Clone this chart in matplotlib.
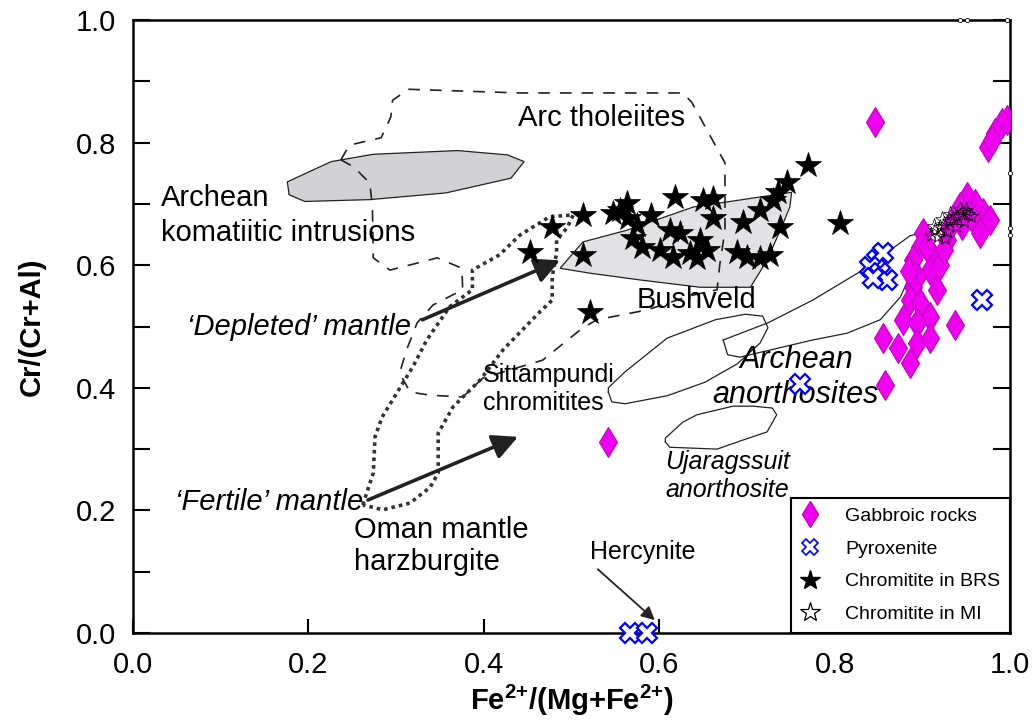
import numpy as np
import matplotlib
matplotlib.use("Agg")
import matplotlib.pyplot as plt
from matplotlib.lines import Line2D
from matplotlib.ticker import FormatStrFormatter, MultipleLocator

plt.rcParams['font.family'] = ['Liberation Sans', 'DejaVu Sans']
plt.rcParams['mathtext.fontset'] = 'custom'
plt.rcParams['mathtext.rm'] = 'Liberation Sans:bold'
plt.rcParams['mathtext.bf'] = 'Liberation Sans:bold'

# --- sample data (Fe2+/(Mg+Fe2+), Cr/(Cr+Al)) ---
gabbro_x = [0.846, 0.997, 0.991, 0.983, 0.975, 0.980, 0.951, 0.943, 0.969, 0.977,
            0.966, 0.960, 0.935, 0.928, 0.901, 0.897, 0.889, 0.912, 0.909, 0.920,
            0.894, 0.917, 0.889, 0.886, 0.897, 0.909, 0.878, 0.894, 0.937, 0.855,
            0.872, 0.894, 0.909, 0.886, 0.857, 0.542, 0.925, 0.945, 0.955, 0.930,
            0.905, 0.885]
gabbro_y = [0.834, 0.837, 0.832, 0.816, 0.793, 0.805, 0.711, 0.695, 0.685, 0.674,
            0.652, 0.700, 0.674, 0.641, 0.652, 0.630, 0.608, 0.613, 0.592, 0.600,
            0.581, 0.560, 0.565, 0.543, 0.538, 0.516, 0.511, 0.506, 0.502, 0.481,
            0.465, 0.473, 0.481, 0.440, 0.405, 0.312, 0.625, 0.665, 0.680, 0.660,
            0.630, 0.590]

pyrox_x = [0.848, 0.855, 0.840, 0.852, 0.860, 0.844, 0.968, 0.761, 0.567, 0.586]
pyrox_y = [0.608, 0.620, 0.597, 0.587, 0.576, 0.579, 0.543, 0.406, 0.0, 0.0]

brs_x = [0.453, 0.478, 0.513, 0.513, 0.521, 0.547, 0.563, 0.565, 0.570, 0.555,
         0.575, 0.591, 0.612, 0.618, 0.624, 0.601, 0.616, 0.635, 0.647, 0.650,
         0.661, 0.661, 0.654, 0.643, 0.696, 0.689, 0.700, 0.715, 0.726, 0.715,
         0.730, 0.738, 0.746, 0.770, 0.735, 0.806, 0.580]
brs_y = [0.622, 0.662, 0.682, 0.617, 0.524, 0.685, 0.701, 0.677, 0.644, 0.690,
         0.665, 0.682, 0.657, 0.711, 0.652, 0.625, 0.613, 0.620, 0.641, 0.706,
         0.710, 0.677, 0.625, 0.612, 0.670, 0.622, 0.613, 0.612, 0.617, 0.690,
         0.706, 0.662, 0.736, 0.763, 0.720, 0.669, 0.630]

mi_x = [0.910, 0.915, 0.920, 0.925, 0.930, 0.935, 0.940, 0.945, 0.950, 0.918,
        0.928, 0.938, 0.948, 0.955, 0.922, 0.913, 0.932, 0.943, 0.952, 0.926]
mi_y = [0.650, 0.658, 0.662, 0.668, 0.672, 0.676, 0.680, 0.686, 0.690, 0.648,
        0.656, 0.664, 0.672, 0.680, 0.675, 0.664, 0.683, 0.692, 0.684, 0.645]
# points sitting on the frame
mi_edge_x = [0.943, 0.951, 0.997, 1.0, 1.0, 1.0]
mi_edge_y = [1.0, 1.0, 1.0, 0.75, 0.66, 0.65]

# --- compositional fields ---
arc_x = [0.237, 0.247, 0.283, 0.294, 0.296, 0.314, 0.441, 0.627, 0.637, 0.675,
         0.675, 0.669, 0.666, 0.635, 0.586, 0.529, 0.513, 0.467, 0.399, 0.376,
         0.339, 0.316, 0.304, 0.312, 0.324, 0.342, 0.376, 0.375, 0.347, 0.293,
         0.274, 0.273, 0.270, 0.252, 0.237]
arc_y = [0.772, 0.796, 0.808, 0.842, 0.869, 0.887, 0.881, 0.881, 0.866, 0.767,
         0.657, 0.600, 0.560, 0.550, 0.527, 0.511, 0.498, 0.445, 0.416, 0.385,
         0.388, 0.393, 0.424, 0.462, 0.506, 0.535, 0.560, 0.595, 0.612, 0.592,
         0.612, 0.695, 0.734, 0.760, 0.772]

komat_x = [0.176, 0.226, 0.274, 0.370, 0.427, 0.446, 0.431, 0.357, 0.270, 0.196, 0.178]
komat_y = [0.736, 0.769, 0.781, 0.787, 0.780, 0.769, 0.742, 0.718, 0.707, 0.704, 0.715]

bush_x = [0.487, 0.513, 0.563, 0.639, 0.751, 0.749, 0.738, 0.723, 0.704, 0.647, 0.578, 0.521]
bush_y = [0.595, 0.638, 0.657, 0.695, 0.719, 0.695, 0.657, 0.608, 0.564, 0.564, 0.576, 0.587]

oman_x = [0.262, 0.274, 0.276, 0.284, 0.301, 0.319, 0.335, 0.361, 0.387, 0.387,
          0.418, 0.441, 0.475, 0.502, 0.495, 0.483, 0.483, 0.478, 0.478, 0.464,
          0.422, 0.396, 0.365, 0.348, 0.348, 0.339, 0.316, 0.285, 0.262]
oman_y = [0.209, 0.261, 0.320, 0.352, 0.392, 0.434, 0.478, 0.532, 0.560, 0.592,
          0.617, 0.649, 0.679, 0.682, 0.661, 0.641, 0.620, 0.581, 0.543, 0.524,
          0.462, 0.413, 0.369, 0.326, 0.261, 0.238, 0.212, 0.201, 0.209]

sitt_x = [0.542, 0.546, 0.561, 0.609, 0.652, 0.689, 0.715, 0.724, 0.718, 0.698,
          0.664, 0.609, 0.561, 0.542]
sitt_y = [0.393, 0.377, 0.374, 0.387, 0.409, 0.439, 0.473, 0.498, 0.517, 0.520,
          0.511, 0.481, 0.426, 0.400]

anor_x = [0.673, 0.724, 0.775, 0.832, 0.886, 0.911, 0.895, 0.875, 0.852, 0.814,
          0.775, 0.692, 0.678, 0.673]
anor_y = [0.478, 0.506, 0.543, 0.592, 0.648, 0.657, 0.612, 0.548, 0.511, 0.489,
          0.478, 0.450, 0.454, 0.478]

ujar_x = [0.607, 0.612, 0.666, 0.696, 0.723, 0.734, 0.729, 0.707, 0.684, 0.643, 0.627, 0.607]
ujar_y = [0.312, 0.303, 0.300, 0.315, 0.328, 0.356, 0.367, 0.370, 0.370, 0.356, 0.344, 0.318]

fig = plt.figure(figsize=(10.34, 7.28), dpi=100)
ax = fig.add_axes([0.1286, 0.1305, 0.8482, 0.8420])

# fields
ax.fill(komat_x, komat_y, facecolor='#d2d2d4', edgecolor='#222222', lw=0.9, zorder=1)
ax.fill(bush_x, bush_y, facecolor='#e2e2e4', edgecolor='#222222', lw=0.9, zorder=1)
ax.plot(arc_x, arc_y, color='#222222', lw=1.2, dashes=(7, 6), zorder=2)
ax.plot(oman_x, oman_y, color='#333333', lw=2.6, linestyle=(0, (1, 1.1)), zorder=2)
for fx, fy in [(sitt_x, sitt_y), (anor_x, anor_y), (ujar_x, ujar_y)]:
    ax.plot(list(fx) + [fx[0]], list(fy) + [fy[0]], color='#222222', lw=0.9, zorder=2)

# arrows
arrow_kw = dict(arrowstyle='-|>', mutation_scale=38, lw=2.6, color='#222222',
                shrinkA=0, shrinkB=0)
ax.annotate('', xy=(0.487, 0.608), xytext=(0.330, 0.511), arrowprops=arrow_kw, zorder=3)
ax.annotate('', xy=(0.439, 0.320), xytext=(0.268, 0.217), arrowprops=arrow_kw, zorder=3)
ax.annotate('', xy=(0.595, 0.021), xytext=(0.530, 0.104),
            arrowprops=dict(arrowstyle='-|>', mutation_scale=20, lw=1.3, color='#222222',
                            shrinkA=0, shrinkB=0), zorder=3)
ax.text(0.521, 0.132, 'Hercynite', fontsize=18, ha='left', va='center')

# field labels
ax.text(0.439, 0.840, 'Arc tholeiites', fontsize=21, ha='left', va='center')
ax.text(0.032, 0.710, 'Archean', fontsize=21, ha='left', va='center')
ax.text(0.032, 0.653, 'komatiitic intrusions', fontsize=21, ha='left', va='center')
ax.text(0.574, 0.543, 'Bushveld', fontsize=21, ha='left', va='center')
ax.text(0.062, 0.499, '\u2018Depleted\u2019 mantle', fontsize=21, style='italic',
        ha='left', va='center')
ax.text(0.048, 0.214, '\u2018Fertile\u2019 mantle', fontsize=21, style='italic',
        ha='left', va='center')
ax.text(0.252, 0.168, 'Oman mantle', fontsize=21, ha='left', va='center')
ax.text(0.252, 0.116, 'harzburgite', fontsize=21, ha='left', va='center')
ax.text(0.399, 0.421, 'Sittampundi', fontsize=18, ha='left', va='center')
ax.text(0.399, 0.375, 'chromitites', fontsize=18, ha='left', va='center')
ax.text(0.692, 0.445, 'Archean', fontsize=22, style='italic', ha='left', va='center')
ax.text(0.660, 0.388, 'anorthosites', fontsize=22, style='italic', ha='left', va='center')
ax.text(0.607, 0.279, 'Ujaragssuit', fontsize=18, style='italic', ha='left', va='center')
ax.text(0.607, 0.233, 'anorthosite', fontsize=18, style='italic', ha='left', va='center')

# samples
ax.plot(gabbro_x, gabbro_y, linestyle='none', marker='d', ms=15, mfc='#f000f0',
        mec='#c400c4', mew=0.8, zorder=5)
ax.plot(mi_x, mi_y, linestyle='none', marker='*', ms=11, mfc='none', mec='black',
        mew=0.5, zorder=5.5)
ax.plot(mi_edge_x, mi_edge_y, linestyle='none', marker='o', ms=3, mfc='white',
        mec='black', mew=0.6, zorder=6, clip_on=False)
ax.plot(pyrox_x, pyrox_y, linestyle='none', marker='X', ms=15, mfc='white',
        mec='#0000ff', mew=1.6, zorder=6, clip_on=False)
ax.plot(brs_x, brs_y, linestyle='none', marker='*', ms=19, mfc='black', mec='black',
        mew=0.5, zorder=6)

# legend
handles = [
    Line2D([], [], linestyle='none', marker='d', ms=13, mfc='#f000f0', mec='#c400c4'),
    Line2D([], [], linestyle='none', marker='X', ms=11, mfc='white', mec='#0000ff', mew=1.2),
    Line2D([], [], linestyle='none', marker='*', ms=15, mfc='black', mec='black'),
    Line2D([], [], linestyle='none', marker='*', ms=15, mfc='white', mec='black', mew=0.9),
]
labels = ['Gabbroic rocks', 'Pyroxenite', 'Chromitite in BRS', 'Chromitite in MI']
leg = ax.legend(handles, labels, loc='lower right', bbox_to_anchor=(1.0, 0.0),
                borderaxespad=0, fontsize=14, frameon=True, fancybox=False,
                framealpha=1, edgecolor='black', handlelength=0.86,
                handletextpad=1.4, borderpad=0.5, labelspacing=0.78)
leg.get_frame().set_linewidth(1.5)
leg.set_zorder(10)

# axes
ax.set_xlim(0, 1)
ax.set_ylim(0, 1)
ax.xaxis.set_major_locator(MultipleLocator(0.2))
ax.yaxis.set_major_locator(MultipleLocator(0.2))
ax.yaxis.set_minor_locator(MultipleLocator(0.1))
ax.xaxis.set_major_formatter(FormatStrFormatter('%.1f'))
ax.yaxis.set_major_formatter(FormatStrFormatter('%.1f'))
ax.tick_params(axis='y', which='both', direction='in', length=12, width=1.5,
               left=True, right=True, labelsize=21, pad=12)
ax.tick_params(axis='x', which='major', direction='in', length=10, width=1.5,
               bottom=True, top=False, labelsize=21, pad=13)
for s in ax.spines.values():
    s.set_linewidth(1.8)

ax.set_xlabel('Fe$^{2{+}}$/(Mg+Fe$^{2{+}}$)', fontsize=21, fontweight='bold', labelpad=3)
ax.set_ylabel('Cr/(Cr+Al)', fontsize=21, fontweight='bold', labelpad=22)

fig.savefig('out.png', dpi=100)
